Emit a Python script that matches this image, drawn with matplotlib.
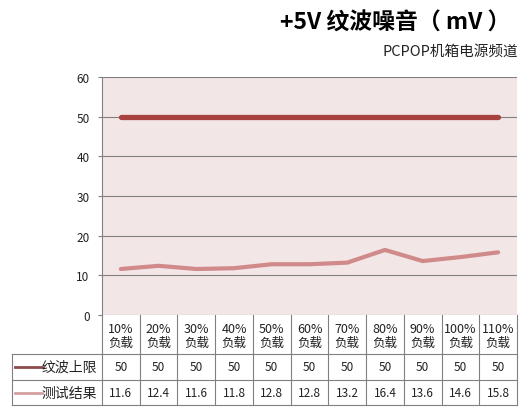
import matplotlib.pyplot as plt
from matplotlib.lines import Line2D
import matplotlib.transforms as mtransforms

plt.rcParams['font.family'] = ['Noto Sans CJK SC', 'DejaVu Sans']

# 数据
categorias = ["10%\n负载", "20%\n负载", "30%\n负载", "40%\n负载", "50%\n负载", "60%\n负载",
              "70%\n负载", "80%\n负载", "90%\n负载", "100%\n负载", "110%\n负载"]
limite = [50, 50, 50, 50, 50, 50, 50, 50, 50, 50, 50]
resultado = [11.6, 12.4, 11.6, 11.8, 12.8, 12.8, 13.2, 16.4, 13.6, 14.6, 15.8]
series = ["纹波上限", "测试结果"]
colores = ["#A8423F", "#D08A8A"]
colores_leyenda = ["#8C4A4A", "#D6A0A0"]

W, H = 527, 410
fig = plt.figure(figsize=(W / 100, H / 100), dpi=100)
fig.patch.set_facecolor("white")

# area del grafico (px)
x0, x1 = 102, 517
y_top, y_bot = 78, 316
ax = fig.add_axes([x0 / W, 1 - y_bot / H, (x1 - x0) / W, (y_bot - y_top) / H])
ax.set_facecolor("#F3E6E6")

n = len(categorias)
xs = list(range(n))
ax.plot(xs, limite, color=colores[0], lw=3.8, solid_capstyle="round")
ax.plot(xs, resultado, color=colores[1], lw=3.0, solid_capstyle="round")

ax.set_xlim(-0.5, n - 0.5)
ax.set_ylim(0, 60)
ax.set_yticks(range(0, 61, 10))
ax.tick_params(axis="y", length=3, color="#808080", labelsize=8.5, labelcolor="#222222", pad=6)
ax.set_xticks([])
ax.grid(axis="y", color="#808080", lw=0.8)
ax.set_axisbelow(True)
for lado in ["top", "right", "bottom"]:
    ax.spines[lado].set_visible(False)
ax.spines["left"].set_color("#808080")

# tabla de datos (x en datos, y en pixeles de figura)
def fy(py):
    return 1 - py / H

trans = mtransforms.blended_transform_factory(ax.transData, fig.transFigure)
gris = "#808080"
r_cat, r1, r2, r3 = 316, 355, 381, 406
left_px = 12

# lineas horizontales
for py in [r1, r2, r3]:
    fig.add_artist(Line2D([left_px / W, x1 / W], [fy(py), fy(py)], color=gris, lw=0.8))
# lineas verticales entre columnas
for i in range(n + 1):
    xb = i - 0.5
    fig.add_artist(Line2D([xb, xb], [fy(r_cat), fy(r3)], color=gris, lw=0.8, transform=trans))
fig.add_artist(Line2D([left_px / W, left_px / W], [fy(r1), fy(r3)], color=gris, lw=0.8))

for i, cat in enumerate(categorias):
    fig.text(i, fy((r_cat + r1) / 2 + 1), cat, transform=trans, ha="center", va="center",
             fontsize=9, color="#222222", linespacing=1.1)
    fig.text(i, fy((r1 + r2) / 2), str(limite[i]), transform=trans, ha="center", va="center",
             fontsize=8.5, color="#222222")
    fig.text(i, fy((r2 + r3) / 2), str(resultado[i]), transform=trans, ha="center", va="center",
             fontsize=8.5, color="#222222")

# encabezados de fila con muestra de linea
for fila, (nombre, col) in enumerate(zip(series, colores_leyenda)):
    yc = fy(((r1 + r2) / 2, (r2 + r3) / 2)[fila])
    fig.add_artist(Line2D([15 / W, 42 / W], [yc, yc], color=col, lw=2))
    fig.text(42 / W, yc, nombre, ha="left", va="center", fontsize=10, color="#222222")

# titulos
fig.text(510 / W, fy(23), "+5V 纹波噪音（ mV ）", ha="right", va="center",
         fontsize=16.5, fontweight="heavy", color="black")
fig.text(518 / W, fy(52), "PCPOP机箱电源频道", ha="right", va="center",
         fontsize=10.5, color="#222222")

fig.savefig("out.png", dpi=100)
